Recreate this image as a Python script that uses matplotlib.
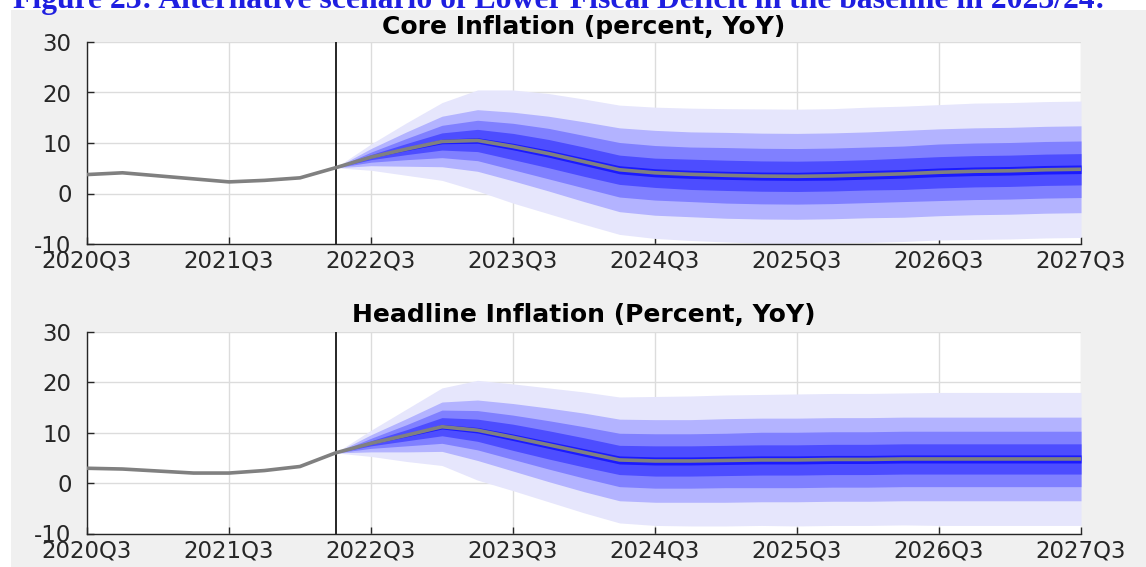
"""
Fan charts for core and headline inflation, lower fiscal deficit scenario
"""

import numpy as np
import matplotlib
matplotlib.use('Agg')
import matplotlib.pyplot as plt
from matplotlib.patches import Rectangle

# quarters 2020Q3 .. 2027Q3, history up to 2022Q2 then projection
tick_labels = ['2020Q3', '2021Q3', '2022Q3', '2023Q3', '2024Q3', '2025Q3', '2026Q3', '2027Q3']
last_obs = 7  # 2022Q2

core_inflation = [3.75, 4.1, 3.5, 2.9, 2.3, 2.6, 3.1, 5.1, 7.2, 8.8, 10.3, 10.5, 9.3, 7.9, 6.3,
                  4.7, 4.1, 3.8, 3.6, 3.45, 3.4, 3.5, 3.7, 3.9, 4.2, 4.4, 4.5, 4.7, 4.8]
headline_inflation = [2.95, 2.8, 2.4, 2.0, 2.0, 2.5, 3.3, 6.0, 7.9, 9.5, 11.2, 10.5, 9.1, 7.6, 6.1,
                      4.6, 4.4, 4.4, 4.5, 4.6, 4.6, 4.7, 4.7, 4.8, 4.8, 4.8, 4.8, 4.8, 4.8]

# half widths of the fan bands, 2022Q2 .. 2027Q3 (widest first)
core_band1 = [0, 2.6, 5.2, 7.7, 10.0, 11.2, 11.9, 12.4, 12.8, 13.0, 13.1, 13.2, 13.3, 13.3, 13.3, 13.4, 13.4, 13.4, 13.5, 13.5, 13.5, 13.5]
core_band2 = [0, 1.7, 3.4, 5.0, 6.1, 6.8, 7.4, 7.9, 8.3, 8.4, 8.4, 8.5, 8.5, 8.5, 8.5, 8.5, 8.6, 8.6, 8.6, 8.6, 8.6, 8.6]
core_band3 = [0, 1.0, 2.1, 3.2, 4.0, 4.6, 5.0, 5.2, 5.4, 5.4, 5.4, 5.5, 5.5, 5.5, 5.5, 5.5, 5.5, 5.6, 5.6, 5.6, 5.6, 5.6]
core_band4 = [0, 0.5, 1.1, 1.7, 2.2, 2.6, 2.8, 2.9, 2.9, 2.9, 3.0, 3.0, 3.0, 3.0, 3.0, 3.0, 3.1, 3.1, 3.1, 3.1, 3.1, 3.1]
core_band5 = [0, 0.15, 0.3, 0.45, 0.55, 0.65, 0.7, 0.75, 0.8, 0.8, 0.8, 0.8, 0.8, 0.8, 0.85, 0.85, 0.85, 0.85, 0.85, 0.85, 0.85, 0.85]

headline_band1 = [0, 2.6, 5.2, 7.7, 9.9, 10.6, 11.3, 12.0, 12.5, 12.8, 12.9, 13.0, 13.0, 13.1, 13.1, 13.1, 13.1, 13.2, 13.2, 13.2, 13.2, 13.2]
headline_band2 = [0, 1.7, 3.3, 4.9, 6.0, 6.7, 7.3, 7.8, 8.1, 8.2, 8.2, 8.3, 8.3, 8.3, 8.3, 8.3, 8.3, 8.3, 8.3, 8.3, 8.3, 8.3]
headline_band3 = [0, 1.0, 2.1, 3.3, 3.9, 4.4, 4.8, 5.1, 5.3, 5.4, 5.4, 5.4, 5.5, 5.5, 5.5, 5.5, 5.5, 5.5, 5.5, 5.5, 5.5, 5.5]
headline_band4 = [0, 0.5, 1.1, 1.8, 2.2, 2.6, 2.8, 2.9, 2.9, 3.0, 3.0, 3.0, 3.0, 3.0, 3.0, 3.0, 3.0, 3.0, 3.0, 3.0, 3.0, 3.0]
headline_band5 = [0, 0.15, 0.3, 0.45, 0.55, 0.65, 0.7, 0.75, 0.8, 0.8, 0.8, 0.8, 0.8, 0.8, 0.8, 0.8, 0.8, 0.8, 0.8, 0.8, 0.8, 0.8]

band_colours = ['#e6e6fc', '#b3b3ff', '#8080ff', '#4d4dff', '#1a1aff']

W, H = 1146, 567


def draw_panel(ax, series, bands, title, title_pad):
    x = np.arange(len(series))
    y = np.array(series)
    xf = x[last_obs:]
    yf = y[last_obs:]

    for hw, col in zip(bands, band_colours):
        hw = np.array(hw)
        ax.fill_between(xf, yf - hw, yf + hw, color=col, lw=0, zorder=2)

    ax.axvline(last_obs, color='#262626', lw=1.4, zorder=3)
    ax.plot(x, y, color='#808080', lw=2.6, zorder=4, solid_capstyle='butt')

    ax.set_xlim(0, len(series) - 1)
    ax.set_ylim(-10, 30)
    ax.set_xticks(np.arange(0, len(series), 4))
    ax.set_xticklabels(tick_labels)
    ax.set_yticks([-10, 0, 10, 20, 30])

    ax.set_facecolor('white')
    ax.grid(True, color='#dcdcdc', lw=1.0, zorder=1)
    ax.set_axisbelow(True)
    for s in ['top', 'right']:
        ax.spines[s].set_visible(False)
    for s in ['left', 'bottom']:
        ax.spines[s].set_color('#262626')
        ax.spines[s].set_linewidth(1.0)
    ax.tick_params(axis='both', direction='in', length=5, width=1.0, color='#262626',
                   labelsize=16.5, labelcolor='#262626')
    ax.tick_params(axis='x', pad=4)
    ax.tick_params(axis='y', pad=11)
    ax.set_title(title, fontsize=18, fontweight='bold', color='black', pad=title_pad)


def main():
    plt.rcParams['font.family'] = ['DejaVu Sans']
    plt.rcParams['axes.unicode_minus'] = False

    fig = plt.figure(figsize=(W / 100, H / 100), dpi=100, facecolor='white')

    # grey panel behind the two charts
    bg = Rectangle((11 / W, 0), 1, (H - 10) / H, transform=fig.transFigure,
                   facecolor='#f0f0f0', edgecolor='none', zorder=-5)
    fig.patches.append(bg)

    fig.text(13 / W, 1 - 8 / H,
             'Figure 23: Alternative scenario of Lower Fiscal Deficit in the baseline in 2023/24:',
             family='Liberation Serif', fontweight='bold', fontsize=22.8, color='#1f1fe0',
             va='baseline', ha='left', zorder=5)

    left = 87 / W
    width = 994 / W
    ax1 = fig.add_axes([left, 1 - 244 / H, width, 202 / H])
    ax2 = fig.add_axes([left, 1 - 533.5 / H, width, 201.5 / H])

    draw_panel(ax1, core_inflation,
               [core_band1, core_band2, core_band3, core_band4, core_band5],
               'Core Inflation (percent, YoY)', 6)
    draw_panel(ax2, headline_inflation,
               [headline_band1, headline_band2, headline_band3, headline_band4, headline_band5],
               'Headline Inflation (Percent, YoY)', 7)

    fig.savefig('out.png', dpi=100, facecolor=fig.get_facecolor())


if __name__ == '__main__':
    main()
